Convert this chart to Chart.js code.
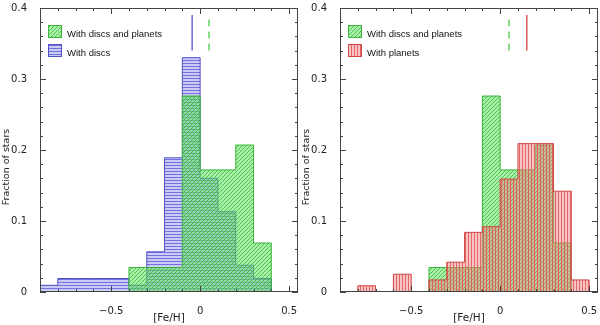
<!DOCTYPE html>
<html>
<head>
<meta charset="utf-8">
<script src="https://cdn.jsdelivr.net/npm/chart.js@4.4.1/dist/chart.umd.min.js"></script>
<style>
  html, body { margin: 0; padding: 0; background: #fff; }
  #wrap { position: relative; width: 600px; height: 325px; }
  .panel { position: absolute; top: 0; width: 300px; height: 325px; }
</style>
</head>
<body>
<div id="wrap">
  <div class="panel" style="left:0"><canvas id="leftChart" width="300" height="325"></canvas></div>
  <div class="panel" style="left:300px"><canvas id="rightChart" width="300" height="325"></canvas></div>
</div>
<script>
// histogram bins: left edge of each [Fe/H] bin, all bins 0.1 wide
const binWidth = 0.1;

const discBins = [-0.9, -0.8, -0.7, -0.6, -0.5, -0.4, -0.3, -0.2, -0.1, 0, 0.1, 0.2, 0.3, 0.4];
const discFrac = [0.0094, 0.019, 0.019, 0.019, 0.019, 0.0094, 0.0566, 0.189, 0.330, 0.160, 0.113, 0.0377, 0.019, 0];

const bothBins = [-0.4, -0.3, -0.2, -0.1, 0, 0.1, 0.2, 0.3];
const bothFrac = [0.0345, 0.0345, 0.0345, 0.276, 0.172, 0.172, 0.207, 0.069];

const planetBins = [-0.8, -0.7, -0.6, -0.5, -0.4, -0.3, -0.2, -0.1, 0, 0.1, 0.2, 0.3, 0.4];
const planetFrac = [0.0088, 0, 0.025, 0, 0.017, 0.042, 0.084, 0.092, 0.159, 0.209, 0.209, 0.142, 0.017];

// mean [Fe/H] of each sample, marked near the top of the panel
const meanDiscs = -0.045;
const meanBoth = 0.05;
const meanPlanets = 0.15;
const markFrom = 0.34, markTo = 0.39;

const xTicks = [-0.5, 0, 0.5];

const FONT = '"DejaVu Sans", sans-serif';

function hatch(kind, fill, line) {
    const c = document.createElement('canvas');
    const n = kind === 'd' ? 4 : 3;
    c.width = n; c.height = n;
    const g = c.getContext('2d');
    g.fillStyle = fill;
    g.fillRect(0, 0, n, n);
    g.fillStyle = line;
    if (kind === 'h') g.fillRect(0, 0, n, 1);
    else if (kind === 'v') g.fillRect(0, 0, 1, n);
    else for (let i = 0; i < n; i++) g.fillRect(i, n - 1 - i, 1, 1);
    return g.createPattern(c, 'repeat');
}

const greenHatch = hatch('d', 'rgba(100,225,100,0.55)', 'rgba(50,185,50,0.8)');
const blueHatch = hatch('h', 'rgba(140,140,235,0.45)', 'rgba(85,85,215,0.75)');
const redHatch = hatch('v', 'rgba(240,135,135,0.5)', 'rgba(225,80,80,0.8)');

function steps(bins, fracs) {
    const pts = [{ x: bins[0], y: 0 }];
    bins.forEach((b, i) => pts.push({ x: b, y: fracs[i] }));
    pts.push({ x: bins[bins.length - 1] + binWidth, y: 0 });
    return pts;
}

function histSet(label, bins, fracs, pattern, border, order) {
    return {
        label,
        data: steps(bins, fracs),
        stepped: true,
        fill: 'origin',
        backgroundColor: pattern,
        borderColor: border,
        borderWidth: 1,
        pointRadius: 0,
        order
    };
}

function markSet(mean, color, dash) {
    return {
        data: [{ x: mean, y: markFrom }, { x: mean, y: markTo }],
        borderColor: color,
        borderWidth: 1.2,
        borderDash: dash,
        pointRadius: 0,
        fill: false,
        order: -1
    };
}

// frame, inward ticks, axis titles and the box legend
const decor = {
    id: 'decor',
    afterDatasetsDraw(chart, args, opts) {
        const { ctx, chartArea: a, scales: { x, y } } = chart;
        ctx.save();
        ctx.strokeStyle = '#444';
        ctx.lineWidth = 1;
        ctx.strokeRect(Math.round(a.left) + 0.5, Math.round(a.top) + 0.5,
            Math.round(a.width) - 1, Math.round(a.height) - 1);
        ctx.beginPath();
        for (let i = -9; i <= 5; i++) {
            const px = Math.round(x.getPixelForValue(i / 10)) + 0.5;
            const len = i % 5 === 0 ? 6 : 3;
            ctx.moveTo(px, a.bottom); ctx.lineTo(px, a.bottom - len);
            ctx.moveTo(px, a.top); ctx.lineTo(px, a.top + len);
        }
        for (let i = 0; i <= 20; i++) {
            const py = Math.round(y.getPixelForValue(i / 50)) + 0.5;
            const len = i % 5 === 0 ? 6 : 3;
            ctx.moveTo(a.left, py); ctx.lineTo(a.left + len, py);
            ctx.moveTo(a.right, py); ctx.lineTo(a.right - len, py);
        }
        ctx.stroke();

        ctx.fillStyle = '#222';
        ctx.font = '10.5px ' + FONT;
        ctx.textAlign = 'center';
        ctx.textBaseline = 'middle';
        ctx.fillText('[Fe/H]', (a.left + a.right) / 2, 318);
        ctx.save();
        ctx.translate(7, 167);
        ctx.rotate(-Math.PI / 2);
        ctx.font = '9.5px ' + FONT;
        ctx.fillText('Fraction of stars', 0, 0);
        ctx.restore();

        opts.items.forEach((idx, k) => {
            const ds = chart.data.datasets[idx];
            const bx = a.left + 8, by = a.top + 17 + k * 19;
            ctx.fillStyle = '#fff';
            ctx.fillRect(bx, by, 14, 13);
            ctx.fillStyle = ds.backgroundColor;
            ctx.fillRect(bx, by, 14, 13);
            ctx.strokeStyle = ds.borderColor;
            ctx.strokeRect(bx + 0.5, by + 0.5, 13, 12);
            ctx.fillStyle = '#111';
            ctx.font = '9.5px "Liberation Sans", sans-serif';
            ctx.textAlign = 'left';
            ctx.textBaseline = 'alphabetic';
            ctx.fillText(ds.label, bx + 19, by + 12);
        });
        ctx.restore();
    }
};

function makeChart(id, datasets, legendItems) {
    return new Chart(document.getElementById(id), {
        type: 'line',
        data: { datasets },
        options: {
            responsive: false,
            animation: false,
            layout: { padding: { top: 8, right: 2, left: 0, bottom: 0 } },
            plugins: {
                legend: { display: false },
                tooltip: { enabled: false },
                decor: { items: legendItems }
            },
            scales: {
                x: {
                    type: 'linear',
                    min: -0.9,
                    max: 0.55,
                    grid: { display: false },
                    border: { display: false },
                    afterBuildTicks: s => { s.ticks = xTicks.map(v => ({ value: v })); },
                    afterFit: s => { s.height = 33; s.paddingLeft = 0; s.paddingRight = 0; },
                    ticks: {
                        padding: 5,
                        maxRotation: 0,
                        color: '#222',
                        font: { family: FONT, size: 10 },
                        callback: v => v === 0 ? '0' : (v < 0 ? '\u2212' : '') + Math.abs(v).toFixed(1)
                    }
                },
                y: {
                    min: 0,
                    max: 0.4,
                    grid: { display: false },
                    border: { display: false },
                    afterFit: s => { s.width = 40; s.paddingTop = 0; s.paddingBottom = 0; },
                    ticks: {
                        stepSize: 0.1,
                        padding: 5,
                        color: '#222',
                        font: { family: FONT, size: 10 },
                        callback: v => v === 0 ? '0' : v.toFixed(1)
                    }
                }
            }
        },
        plugins: [decor]
    });
}

makeChart('leftChart', [
    histSet('With discs and planets', bothBins, bothFrac, greenHatch, '#3cb43c', 0),
    histSet('With discs', discBins, discFrac, blueHatch, '#5050c8', 1),
    markSet(meanDiscs, '#4646d2', []),
    markSet(meanBoth, '#3cc83c', [7, 5])
], [0, 1]);

makeChart('rightChart', [
    histSet('With discs and planets', bothBins, bothFrac, greenHatch, '#3cb43c', 1),
    histSet('With planets', planetBins, planetFrac, redHatch, '#d04646', 0),
    markSet(meanBoth, '#3cc83c', [7, 5]),
    markSet(meanPlanets, '#c83232', [])
], [0, 1]);
</script>
</body>
</html>
